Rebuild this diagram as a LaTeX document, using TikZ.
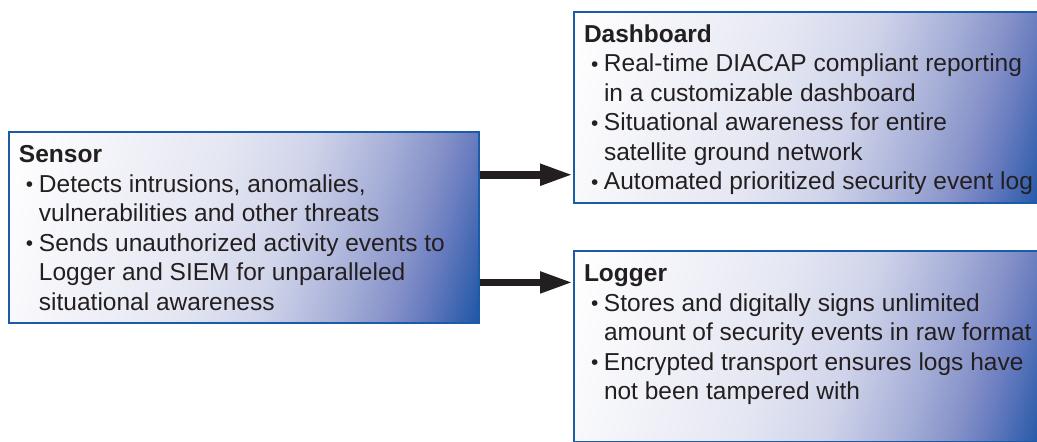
\documentclass[tikz,border=0pt]{standalone}
\usepackage{fontspec}
\setmainfont{Liberation Sans}
\usepackage{tikz}
\usepackage{xcolor}
\usetikzlibrary{arrows.meta,positioning,calc}
\definecolor{panelEdge}{HTML}{1B5CA9}
\definecolor{panelInk}{HTML}{231F20}
\definecolor{shadeA}{HTML}{F1F2F8}
\definecolor{shadeB}{HTML}{E4E6F2}
\definecolor{shadeC}{HTML}{D0D4EA}
\definecolor{shadeD}{HTML}{A3ACD6}
\definecolor{shadeE}{HTML}{8591C8}
\definecolor{shadeF}{HTML}{6A7DC0}
\definecolor{shadeG}{HTML}{2257A6}
\pgfdeclarehorizontalshading{panelShade}{100bp}{color(0bp)=(white); color(19bp)=(white);
  color(33bp)=(shadeA); color(45bp)=(shadeB); color(55bp)=(shadeC); color(65bp)=(shadeD);
  color(70.5bp)=(shadeE); color(74bp)=(shadeF); color(81bp)=(shadeG); color(100bp)=(shadeG)}
\newcommand{\itm}[1]{\\\mbox{\hspace*{7pt}\raisebox{0.8pt}{\scalebox{0.85}{\textbullet}}\hspace{5.7pt}#1}}
\newcommand{\cnt}[1]{\\\mbox{\hspace*{20pt}#1}}
\newcommand{\panelbody}[2]{\parbox[c][171pt][t]{450pt}{\raggedright\strut\textbf{#1}#2}}

\begin{document}
\begin{tikzpicture}[x=1pt,y=-1pt,
    font=\fontsize{24.5}{29.5}\selectfont, text=panelInk,
    panel/.style={draw=panelEdge, line width=2pt, shade, shading=panelShade,
      shading angle=-17, inner sep=10pt, anchor=north west},
    flow/.style={draw=panelInk, line width=7.6pt,
      -{Triangle[length=33pt,width=20pt]}}]
    \useasboundingbox (0,0) rectangle (1037,442);
    \clip (0,0) rectangle (1037,442);
    \node[panel] (sensor) at (8,131.3) {\panelbody{Sensor}{%
        \itm{Detects intrusions, anomalies,}
        \cnt{vulnerabilities and other threats}
        \itm{Sends unauthorized activity events to}
        \cnt{Logger and SIEM for unparalleled}
        \cnt{situational awareness}}};
    \node[panel] (dash) at (573,10.7) {\panelbody{Dashboard}{%
        \itm{Real-time DIACAP compliant reporting}
        \cnt{in a customizable dashboard}
        \itm{Situational awareness for entire}
        \cnt{satellite ground network}
        \itm{Automated prioritized security event log}}};
    \node[panel, below right=46.3pt and 0pt of dash.south west] (logger) {\panelbody{Logger}{%
        \itm{Stores and digitally signs unlimited}
        \cnt{amount of security events in raw format}
        \itm{Encrypted transport ensures logs have}
        \cnt{not been tampered with}}};
    % sensor feeds both
    \coordinate (s1) at ($(sensor.north east)!.225!(sensor.south east)$);
    \coordinate (s2) at ($(sensor.north east)!.783!(sensor.south east)$);
    \draw[flow] (s1) -- (s1 -| dash.west);
    \draw[flow] (s2) -- (s2 -| logger.west);
  \end{tikzpicture}
\end{document}
